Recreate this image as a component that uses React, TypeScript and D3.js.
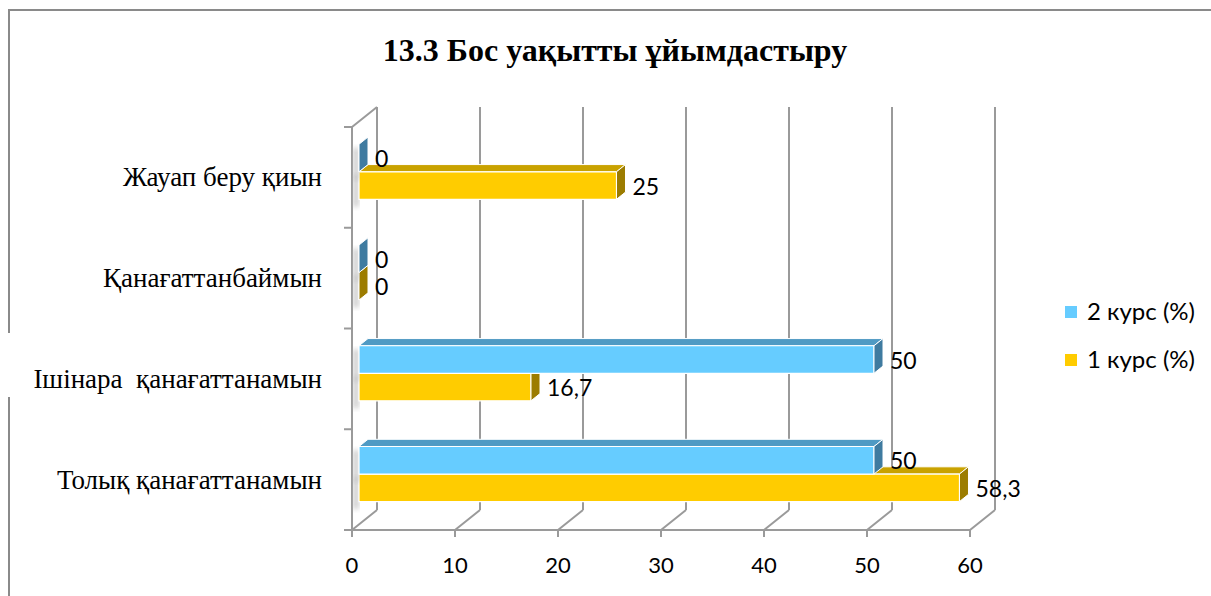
import React, { useEffect, useRef } from "react";
import * as d3 from "d3";

const title = "13.3 Бос уақытты ұйымдастыру";
const categories = ["Толық қанағаттанамын", "Ішінара  қанағаттанамын", "Қанағаттанбаймын", "Жауап беру қиын"];
const seriesNames = ["2 курс (%)", "1 курс (%)"];
const course2 = [50, 50, 0, 0];
const course1 = [58.3, 16.7, 0, 25];
const xTicks = [0, 10, 20, 30, 40, 50, 60];

const frontColors = ["#66ccff", "#ffcc00"];
const topColors = ["#4f9ac4", "#c9a200"];
const sideColors = ["#3f7ba0", "#9c7c00"];

export default function App() {
  const ref = useRef<SVGSVGElement>(null);

  useEffect(() => {
    const width = 1211;
    const height = 596;
    const svg = d3.select(ref.current).attr("width", width).attr("height", height);
    svg.selectAll("*").remove();

    const DX = 25;
    const DY = 20;
    const z0 = 0.28;
    const z1 = 0.64;
    const gray = "#9a9a9a";
    const sans = "Lato, 'Open Sans', sans-serif";
    const serif = "'Liberation Serif', 'DejaVu Serif', serif";

    const x = d3.scaleLinear().domain([0, 60]).range([352, 970]);
    const yBand = d3.scaleBand<string>().domain(categories).range([530, 127]);
    const ySub = d3.scaleBand<string>().domain(seriesNames).range([0, yBand.bandwidth()]).paddingOuter(0.83);
    const proj = (v: number, y: number, z: number): [number, number] => [x(v) + DX * z, y - DY * z];

    // frame
    const gapCat = categories[1];
    const gapMid = (yBand(gapCat) as number) + yBand.bandwidth() / 2;
    svg.append("path")
      .attr("d", `M9,${height + 10} L9,${gapMid + 18} M9,${gapMid - 46} L9,10 L${width + 10},10`)
      .attr("fill", "none").attr("stroke", "#8a8a8a").attr("stroke-width", 2);

    // title
    svg.append("text")
      .attr("x", 615).attr("y", 61)
      .attr("text-anchor", "middle")
      .attr("font-family", serif).attr("font-weight", "bold").attr("font-size", 32)
      .text(title);

    const yTop = 127;
    const yBot = 530;
    const grid = svg.append("g").attr("stroke", gray).attr("stroke-width", 2).attr("fill", "none");
    // back gridlines + floor diagonals
    xTicks.forEach(t => {
      const [bx, by] = proj(t, yBot, 1);
      const [tx, ty] = proj(t, yTop, 1);
      grid.append("line").attr("x1", tx).attr("y1", ty).attr("x2", bx).attr("y2", by);
      grid.append("line").attr("x1", x(t)).attr("y1", yBot).attr("x2", bx).attr("y2", by);
      grid.append("line").attr("x1", x(t)).attr("y1", yBot).attr("x2", x(t)).attr("y2", yBot + 7);
    });
    // left wall top edge
    const [lx, ly] = proj(0, yTop, 1);
    grid.append("line").attr("x1", x(0)).attr("y1", yTop).attr("x2", lx).attr("y2", ly);
    // axes
    grid.append("line").attr("x1", x(0)).attr("y1", yTop).attr("x2", x(0)).attr("y2", yBot);
    grid.append("line").attr("x1", x(0)).attr("y1", yBot).attr("x2", x(60)).attr("y2", yBot);
    const edges = [yTop, ...categories.map(c => (yBand(c) as number) + yBand.bandwidth())];
    edges.forEach(e => {
      grid.append("line").attr("x1", x(0) - 8).attr("y1", e).attr("x2", x(0)).attr("y2", e);
    });

    // x tick labels
    svg.append("g").selectAll("text").data(xTicks).enter().append("text")
      .attr("x", d => x(d)).attr("y", 573)
      .attr("text-anchor", "middle")
      .attr("font-family", sans).attr("font-size", 22)
      .text(d => d);

    // category labels
    svg.append("g").selectAll("text").data(categories).enter().append("text")
      .attr("x", 322)
      .attr("y", d => (yBand(d) as number) + yBand.bandwidth() / 2 + 9)
      .attr("text-anchor", "end")
      .attr("font-family", serif).attr("font-size", 27)
      .style("white-space", "pre")
      .text(d => d);

    // soft shadow filter
    const defs = svg.append("defs");
    defs.append("filter").attr("id", "blur").append("feGaussianBlur").attr("stdDeviation", 2.5);

    const values = [course2, course1];
    const fmt = (v: number) => d3.format("~r")(v).replace(".", ",");
    const bars = svg.append("g");
    const labels = svg.append("g");

    categories.forEach((c, ci) => {
      // lower series first so the upper front face covers its top face
      [1, 0].forEach(si => {
        const v = values[si][ci];
        const yt = (yBand(c) as number) + (ySub(seriesNames[si]) as number);
        const yb = yt + ySub.bandwidth();
        const poly = (pts: [number, number][]) => pts.map(p => p.join(",")).join(" ");

        bars.append("rect")
          .attr("x", x(0) + 1).attr("y", yt - 2)
          .attr("width", 6).attr("height", yb - yt + 4)
          .attr("fill", "#b0b0b0").attr("opacity", 0.6)
          .attr("filter", "url(#blur)");

        bars.append("polygon")
          .attr("points", poly([proj(0, yt, z0), proj(v, yt, z0), proj(v, yt, z1), proj(0, yt, z1)]))
          .attr("fill", topColors[si]).attr("stroke", "#fff").attr("stroke-width", 1);
        bars.append("polygon")
          .attr("points", poly([proj(0, yt, z0), proj(v, yt, z0), proj(v, yb, z0), proj(0, yb, z0)]))
          .attr("fill", frontColors[si]).attr("stroke", "#fff").attr("stroke-width", 1.2);
        bars.append("polygon")
          .attr("points", poly([proj(v, yt, z0), proj(v, yt, z1), proj(v, yb, z1), proj(v, yb, z0)]))
          .attr("fill", sideColors[si]).attr("stroke", "#fff").attr("stroke-width", 1);

        const [ex] = proj(v, yt, z1);
        labels.append("text")
          .attr("x", ex + 7)
          .attr("y", (yt + yb) / 2 - DY * z0 + 9)
          .attr("font-family", sans).attr("font-size", 23)
          .text(fmt(v));
      });
    });

    // legend
    const legend = svg.append("g");
    seriesNames.forEach((s, i) => {
      const cy = 312 + i * 48;
      legend.append("rect").attr("x", 1065).attr("y", cy - 6).attr("width", 12).attr("height", 12)
        .attr("fill", frontColors[i]);
      legend.append("text").attr("x", 1087).attr("y", cy + 8)
        .attr("font-family", sans).attr("font-size", 24)
        .text(s);
    });
  });

  return (
    <svg ref={ref} style={{ position: "absolute", left: 0, top: 0, background: "#fff" }} />
  );
}
